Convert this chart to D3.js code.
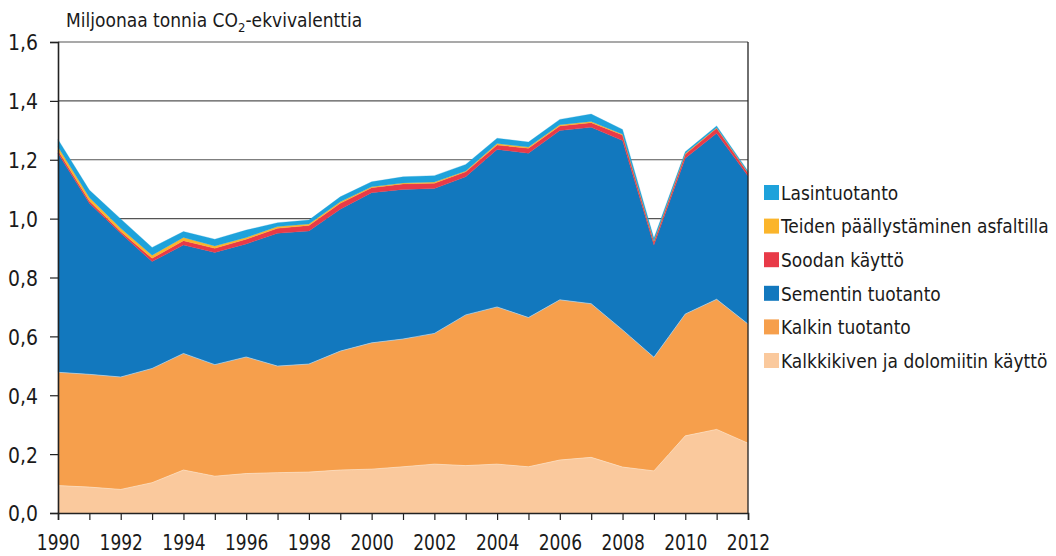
<!DOCTYPE html>
<html>
<head>
<meta charset="utf-8">
<script src="https://cdn.jsdelivr.net/npm/d3@7"></script>
<style>
  body { margin: 0; background: #fff; }
  svg text { font-family: "Liberation Sans Narrow", "DejaVu Sans Condensed", "Liberation Sans", sans-serif; fill: #1a1a1a; }
</style>
</head>
<body>
<div id="chart"></div>
<script>
// years on the x axis
var years = d3.range(1990, 2013);

// series values, million tonnes CO2-eq
var kalkkikivi = [0.093, 0.088, 0.080, 0.103, 0.146, 0.125, 0.134, 0.137, 0.139, 0.146, 0.149,
                  0.157, 0.166, 0.161, 0.166, 0.157, 0.180, 0.189, 0.156, 0.143, 0.262, 0.284, 0.237];
var kalkin = [0.385, 0.383, 0.382, 0.388, 0.396, 0.379, 0.396, 0.362, 0.367, 0.404, 0.429,
              0.434, 0.444, 0.512, 0.534, 0.507, 0.544, 0.522, 0.466, 0.386, 0.414, 0.442, 0.405];
var sementti = [0.744, 0.581, 0.488, 0.363, 0.368, 0.381, 0.384, 0.451, 0.452, 0.482, 0.510,
                0.508, 0.492, 0.469, 0.535, 0.558, 0.575, 0.599, 0.643, 0.381, 0.529, 0.564, 0.503];
var sooda = [0.009, 0.008, 0.006, 0.011, 0.015, 0.014, 0.016, 0.017, 0.019, 0.020, 0.017,
             0.019, 0.018, 0.017, 0.015, 0.017, 0.016, 0.016, 0.019, 0.012, 0.014, 0.017, 0.010];
var asfaltti = [0.013, 0.012, 0.011, 0.011, 0.011, 0.008, 0.006, 0.006, 0.005, 0.005, 0.003,
                0.003, 0.004, 0.003, 0.005, 0.004, 0.004, 0.004, 0.003, 0.002, 0.002, 0.002, 0.002];
var lasi = [0.025, 0.025, 0.032, 0.026, 0.020, 0.023, 0.025, 0.013, 0.013, 0.017, 0.017,
            0.021, 0.022, 0.022, 0.018, 0.017, 0.018, 0.025, 0.016, 0.009, 0.006, 0.006, 0.004];

// stacking order, bottom first
var seriesNames = ["Kalkkikiven ja dolomiitin käyttö", "Kalkin tuotanto", "Sementin tuotanto",
                   "Soodan käyttö", "Teiden päällystäminen asfaltilla", "Lasintuotanto"];
var seriesValues = [kalkkikivi, kalkin, sementti, sooda, asfaltti, lasi];
var seriesColors = ["#fac99d", "#f69f4c", "#1278be", "#e83a48", "#fbb52b", "#1ea2db"];

var yTicks = [0, 0.2, 0.4, 0.6, 0.8, 1.0, 1.2, 1.4, 1.6];

var width = 1056, height = 556;
var margin = { left: 58, right: 308, top: 42, bottom: 43 };

var svg = d3.select("#chart").append("svg")
    .attr("width", width)
    .attr("height", height);

var x = d3.scaleLinear()
    .domain([1990, 2012])
    .range([margin.left, width - margin.right]);

var y = d3.scaleLinear()
    .domain([0, 1.6])
    .range([height - margin.bottom, margin.top]);

// squeeze a text horizontally so it looks like a condensed face
function squeeze(sel, factor) {
    sel.each(function() {
        var w = this.getComputedTextLength();
        d3.select(this)
            .attr("textLength", w * factor)
            .attr("lengthAdjust", "spacingAndGlyphs");
    });
}

// table for the stack
var table = years.map(function(yr, i) {
    var row = { year: yr };
    seriesNames.forEach(function(n, k) { row[n] = seriesValues[k][i]; });
    return row;
});

var stack = d3.stack().keys(seriesNames);
var layers = stack(table);

// gridlines
svg.append("g")
    .selectAll("line")
    .data(yTicks)
    .enter()
    .append("line")
    .attr("x1", x(1990))
    .attr("x2", x(2012))
    .attr("y1", function(d) { return y(d); })
    .attr("y2", function(d) { return y(d); })
    .attr("stroke", "#555")
    .attr("stroke-width", 1.2);

var area = d3.area()
    .x(function(d) { return x(d.data.year); })
    .y0(function(d) { return y(d[0]); })
    .y1(function(d) { return y(d[1]); });

svg.append("g")
    .selectAll("path")
    .data(layers)
    .enter()
    .append("path")
    .attr("d", area)
    .attr("fill", function(d, i) { return seriesColors[i]; })
    .attr("stroke", function(d, i) { return seriesColors[i]; })
    .attr("stroke-width", 0.3);

// thin white separators above the two lowest layers
svg.append("g")
    .selectAll("path")
    .data(layers.slice(0, 2))
    .enter()
    .append("path")
    .attr("d", d3.line()
        .x(function(d) { return x(d.data.year); })
        .y(function(d) { return y(d[1]); }))
    .attr("fill", "none")
    .attr("stroke", "#fff")
    .attr("stroke-opacity", 0.6)
    .attr("stroke-width", 0.8);

// frame on the right
svg.append("line")
    .attr("x1", x(2012)).attr("x2", x(2012))
    .attr("y1", y(0)).attr("y2", y(1.6))
    .attr("stroke", "#222").attr("stroke-width", 1.3);

// axes
var yAxis = d3.axisLeft(y)
    .tickValues(yTicks)
    .tickSize(8)
    .tickFormat(function(d) { return d3.format(".1f")(d).replace(".", ","); });

var gy = svg.append("g")
    .attr("transform", "translate(" + margin.left + ",0)")
    .call(yAxis);

var xAxis = d3.axisBottom(x)
    .tickValues(years)
    .tickSize(7)
    .tickFormat(function(d) { return d % 2 === 0 ? d : ""; });

var gx = svg.append("g")
    .attr("transform", "translate(0," + y(0) + ")")
    .call(xAxis);

[gx, gy].forEach(function(g) {
    g.select(".domain").attr("stroke", "#222").attr("stroke-width", 1.6);
    g.selectAll(".tick line").attr("stroke", "#222").attr("stroke-width", 1.2);
    g.selectAll("text").style("font-size", "22px").attr("fill", "#1a1a1a");
});
gy.selectAll("text").attr("x", -20).attr("dy", "0.36em");
gx.selectAll("text").attr("y", 37).attr("dy", 0);
squeeze(gy.selectAll("text"), 0.95);
squeeze(gx.selectAll("text"), 0.86);

// unit label
var unit = svg.append("text")
    .attr("x", 66)
    .attr("y", 27)
    .style("font-size", "19px");
unit.append("tspan").text("Miljoonaa tonnia CO");
unit.append("tspan").attr("dy", 5).style("font-size", "13px").text("2");
unit.append("tspan").attr("dy", -5).text("-ekvivalenttia");

// legend, top entry is the top layer
var legendData = seriesNames.map(function(n, i) { return { name: n, color: seriesColors[i] }; }).reverse();

var legend = svg.append("g")
    .selectAll("g")
    .data(legendData)
    .enter()
    .append("g")
    .attr("transform", function(d, i) { return "translate(764," + (192.5 + i * 33.6) + ")"; });

legend.append("rect")
    .attr("x", 0)
    .attr("y", -7.5)
    .attr("width", 15)
    .attr("height", 15)
    .attr("fill", function(d) { return d.color; });

var legendText = legend.append("text")
    .attr("x", 0)
    .attr("y", 0)
    .attr("dy", "0.36em")
    .style("font-size", "20px")
    .text(function(d) { return d.name; });

// fit the longest entry to the width it has in the original (horizontal scale only)
var longest = d3.max(legendText.nodes(), function(n) { return n.getComputedTextLength(); });
var sx = Math.min(1, 268 / longest);
legendText.attr("transform", "translate(17,0) scale(" + sx + ",1)");
</script>
</body>
</html>
